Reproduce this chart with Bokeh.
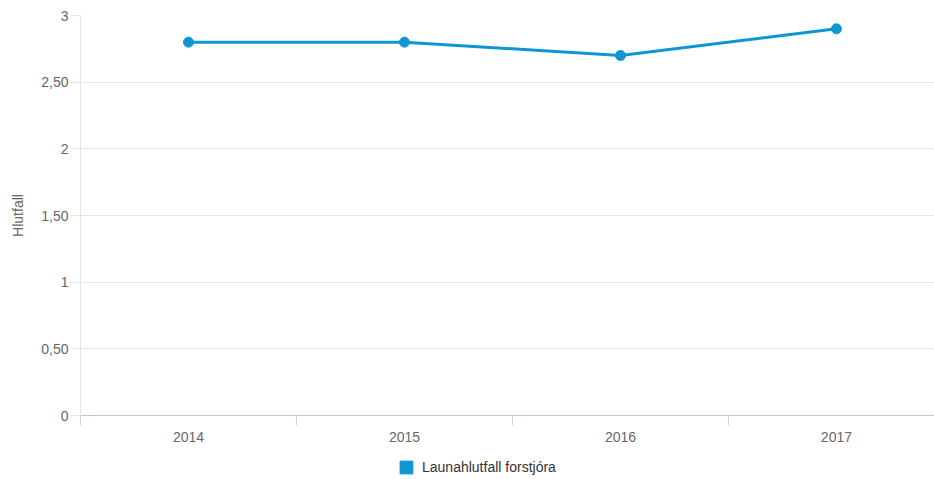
from bokeh.plotting import figure
from bokeh.layouts import column
from bokeh.models import FixedTicker, Range1d, Legend, LegendItem, ColumnDataSource
from bokeh.embed import file_html
from bokeh.resources import INLINE

years = ["2014", "2015", "2016", "2017"]
values = [2.8, 2.8, 2.7, 2.9]
series_name = "Launahlutfall forstjóra"
y_ticks = [0, 0.5, 1, 1.5, 2, 2.5, 3]
y_tick_labels = ["0", "0,50", "1", "1,50", "2", "2,50", "3"]
y_title = "Hlutfall"

COLOR = "#0f96d2"
FONT = "Liberation Sans"
FS = "14px"

idx = list(range(len(years)))
src = ColumnDataSource(dict(x=idx, y=values))

p = figure(width=934, height=445, output_backend="svg", toolbar_location=None,
           x_range=Range1d(-0.5, 3.454), y_range=Range1d(0, 3),
           min_border_left=80, min_border_right=0, min_border_top=15,
           min_border_bottom=30)
p.outline_line_color = None
p.background_fill_color = "white"
p.border_fill_color = "white"

p.line("x", "y", source=src, line_color=COLOR, line_width=3)
p.scatter("x", "y", source=src, size=10, fill_color=COLOR, line_color=COLOR)

# x axis
p.xaxis.ticker = FixedTicker(ticks=idx, minor_ticks=[i - 0.5 for i in idx])
p.xaxis.major_label_overrides = {i: y for i, y in zip(idx, years)}
p.xaxis.major_tick_line_color = None
p.xaxis.major_tick_out = 0
p.xaxis.major_tick_in = 0
p.xaxis.minor_tick_line_color = "#ccd6eb"
p.xaxis.minor_tick_in = 0
p.xaxis.minor_tick_out = 10
p.xaxis.axis_line_color = "#c0c6d0"
p.xaxis.major_label_standoff = 6
p.xaxis.major_label_text_font = FONT
p.xaxis.major_label_text_font_size = FS
p.xaxis.major_label_text_color = "#666666"
p.xgrid.grid_line_color = None

# y axis
p.yaxis.ticker = FixedTicker(ticks=y_ticks)
p.yaxis.major_label_overrides = {t: l for t, l in zip(y_ticks, y_tick_labels)}
p.yaxis.minor_tick_line_color = None
p.yaxis.major_tick_line_color = "#e6e6e6"
p.yaxis.major_tick_in = 0
p.yaxis.major_tick_out = 10
p.yaxis.axis_line_color = "#e6e6e6"
p.yaxis.major_label_standoff = 2
p.yaxis.major_label_text_font = FONT
p.yaxis.major_label_text_font_size = FS
p.yaxis.major_label_text_color = "#666666"
p.yaxis.axis_label = y_title
p.yaxis.axis_label_text_font = FONT
p.yaxis.axis_label_text_font_size = FS
p.yaxis.axis_label_text_font_style = "normal"
p.yaxis.axis_label_text_color = "#666666"
p.yaxis.axis_label_standoff = 12
p.ygrid.grid_line_color = "#e6e6e6"

# legend in a separate strip below the chart; the series is drawn there
# as bars (outside the strip's visible ranges) only to supply the key
lf = figure(width=934, height=34, output_backend="svg", toolbar_location=None,
            x_range=Range1d(100, 101), y_range=Range1d(100, 101),
            x_axis_location=None, y_axis_location=None,
            min_border=0)
lf.outline_line_color = None
lf.xgrid.grid_line_color = None
lf.ygrid.grid_line_color = None
proxy = lf.vbar(x="x", top="y", width=0.5, source=src,
                fill_color=COLOR, line_color=COLOR)
legend = Legend(items=[LegendItem(label=series_name, renderers=[proxy], index=0)],
                orientation="horizontal", location=(318, 4),
                label_text_font=FONT, label_text_font_size=FS,
                label_text_color="#333333", glyph_width=16, glyph_height=16,
                label_height=16,
                border_line_color=None, background_fill_alpha=0,
                padding=0, margin=0, label_standoff=8)
lf.add_layout(legend, "center")

layout = column(p, lf, spacing=0)
open("out.html", "w").write(file_html(layout, INLINE))
